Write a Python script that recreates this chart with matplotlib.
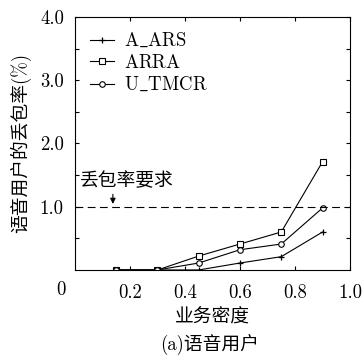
import numpy as np
import matplotlib.pyplot as plt

plt.rcParams['font.family'] = ['cmr10', 'Noto Sans CJK SC', 'DejaVu Serif']
plt.rcParams['mathtext.fontset'] = 'cm'
plt.rcParams['axes.unicode_minus'] = False
plt.rcParams['axes.formatter.use_mathtext'] = True

# 数据
density = [0.15, 0.3, 0.45, 0.6, 0.75, 0.9]
a_ars = [0, 0, 0, 0.11, 0.21, 0.6]
arra = [0, 0, 0.22, 0.41, 0.6, 1.71]
u_tmcr = [0, 0, 0.11, 0.32, 0.41, 0.98]

fs = 13.5

fig = plt.figure(figsize=(3.62, 3.59), dpi=100)
ax = fig.add_axes([0.207, 0.248, 0.76, 0.705])

ax.plot(density, a_ars, 'k-', marker='+', ms=4, mew=0.9, lw=0.8, label=r'$\mathrm{A\_ARS}$')
ax.plot(density, arra, 'k-', marker='s', ms=4, mfc='white', mew=0.8, lw=0.8, label=r'$\mathrm{ARRA}$')
ax.plot(density, u_tmcr, 'k-', marker='o', ms=4, mfc='white', mew=0.8, lw=0.8, label=r'$\mathrm{U\_TMCR}$')

# 丢包率要求
ax.axhline(1.0, color='k', ls=(0, (7, 4)), lw=0.8)
ax.annotate('', xy=(0.138, 1.0), xytext=(0.138, 1.24),
            arrowprops=dict(arrowstyle='-|>', color='k', lw=0.8, mutation_scale=8))
ax.text(0.018, 1.41, '丢包率要求', fontsize=fs, va='center', ha='left')

ax.set_xlim(0, 1.0)
ax.set_ylim(0, 4.0)
ax.set_xticks([0.2, 0.4, 0.6, 0.8, 1.0])
ax.set_xticklabels(['0.2', '0.4', '0.6', '0.8', '1.0'])
ax.set_yticks(np.arange(0.5, 4.01, 0.5))
ax.set_yticklabels(['' if abs(v - round(v)) > 1e-6 else f'{v:.1f}' for v in np.arange(0.5, 4.01, 0.5)])
ax.tick_params(direction='in', top=True, right=True, labelsize=fs, length=3, width=0.8)
ax.tick_params(axis='x', pad=10)
ax.tick_params(axis='y', pad=8)
ax.text(-0.05, -0.045, '0', transform=ax.transAxes, fontsize=fs, ha='center', va='top')
for s in ax.spines.values():
    s.set_linewidth(0.8)

ax.set_xlabel('业务密度', fontsize=fs, labelpad=5)
ax.set_ylabel('语音用户的丢包率(%)', fontsize=fs, labelpad=6)
fig.text(0.58, 0.04, '(a)语音用户', fontsize=fs, ha='center', va='center')

ax.legend(loc='upper left', frameon=False, fontsize=fs, handlelength=1.3,
          handletextpad=0.5, labelspacing=0.2, borderaxespad=0.4)

plt.savefig('out.png', dpi=100)
